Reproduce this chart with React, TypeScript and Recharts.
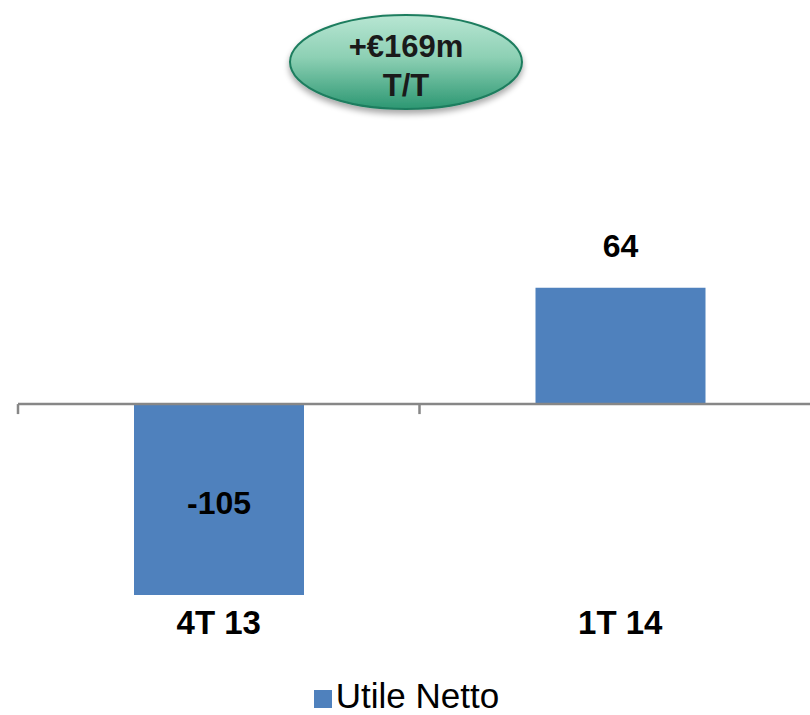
import React from 'react';
import { BarChart, Bar, XAxis, YAxis, Legend, ReferenceLine, LabelList } from 'recharts';

const categories = ['4T 13', '1T 14'];
const utileNetto = [-105, 64];
const seriesName = 'Utile Netto';
const calloutLines = ['+€169m', 'T/T'];

const data = categories.map((c, i) => ({ name: c, value: utileNetto[i] }));

const FONT = '"Liberation Sans", Arial, sans-serif';

const ZeroLine = (props: any) => {
  const { x1, y1, x2 } = props;
  const mid = (x1 + x2) / 2;
  const stroke = '#878787';
  return (
    <g>
      <line x1={x1} y1={y1} x2={x2} y2={y1} stroke={stroke} strokeWidth={2.5} />
      {[x1, mid, x2].map((x, i) => (
        <line key={i} x1={x} y1={y1} x2={x} y2={y1 + 10} stroke={stroke} strokeWidth={2.5} />
      ))}
    </g>
  );
};

const Tick = (props: any) => {
  const { x, y, payload } = props;
  return (
    <text x={x} y={y + 30} textAnchor="middle" fontFamily={FONT} fontWeight="bold" fontSize={33} fill="#000">
      {payload.value}
    </text>
  );
};

const ValueLabel = (props: any) => {
  const { x, y, width, height, value } = props;
  const top = Math.min(y, y + height);
  const bottom = Math.max(y, y + height);
  const cx = x + width / 2;
  const ty = value >= 0 ? top - 31 : (top + bottom) / 2 + 14;
  return (
    <text x={cx} y={ty} textAnchor="middle" fontFamily={FONT} fontWeight="bold" fontSize={32} fill="#000">
      {value}
    </text>
  );
};

export default function App() {
  return (
    <div style={{ position: 'absolute', left: 0, top: 0, width: 810, height: 715, overflow: 'hidden', background: '#fff' }}>
      <BarChart
        width={840}
        height={715}
        data={data}
        margin={{ top: 186, right: 19, left: 18, bottom: 0 }}
      >
        <XAxis dataKey="name" axisLine={false} tickLine={false} tickSize={0} tickMargin={0} height={73} tick={<Tick />} interval={0} />
        <YAxis hide domain={[-110, 120]} allowDataOverflow />
        <Bar dataKey="value" name={seriesName} fill="#4f81bd" barSize={170} isAnimationActive={false}>
          <LabelList dataKey="value" content={<ValueLabel />} />
        </Bar>
        <ReferenceLine y={0} shape={<ZeroLine />} ifOverflow="extendDomain" />
        <Legend
          verticalAlign="bottom"
          align="center"
          iconType="square"
          iconSize={18}
          wrapperStyle={{ fontFamily: FONT, fontSize: 35, lineHeight: '38px', marginLeft: -8 }}
          formatter={(v: string) => <span style={{ color: '#000' }}>{v}</span>}
        />
      </BarChart>
      <svg width={810} height={140} style={{ position: 'absolute', left: 0, top: 0 }}>
        <defs>
          <linearGradient id="callout" x1="0" y1="0" x2="0" y2="1">
            <stop offset="0%" stopColor="#b8e6d3" />
            <stop offset="45%" stopColor="#8dd0b4" />
            <stop offset="100%" stopColor="#2c9772" />
          </linearGradient>
          <filter id="shadow" x="-20%" y="-20%" width="140%" height="160%">
            <feGaussianBlur in="SourceAlpha" stdDeviation="3" />
            <feOffset dx="0" dy="4" result="b" />
            <feComponentTransfer>
              <feFuncA type="linear" slope="0.35" />
            </feComponentTransfer>
            <feMerge>
              <feMergeNode />
              <feMergeNode in="SourceGraphic" />
            </feMerge>
          </filter>
        </defs>
        <ellipse cx={406} cy={62} rx={116} ry={47} fill="url(#callout)" stroke="#1e7d5e" strokeWidth={2} filter="url(#shadow)" />
        <text x={406} y={57} textAnchor="middle" fontFamily={FONT} fontWeight="bold" fontSize={31} fill="#1a1a1a">
          {calloutLines[0]}
        </text>
        <text x={406} y={96} textAnchor="middle" fontFamily={FONT} fontWeight="bold" fontSize={31} fill="#1a1a1a">
          {calloutLines[1]}
        </text>
      </svg>
    </div>
  );
}
